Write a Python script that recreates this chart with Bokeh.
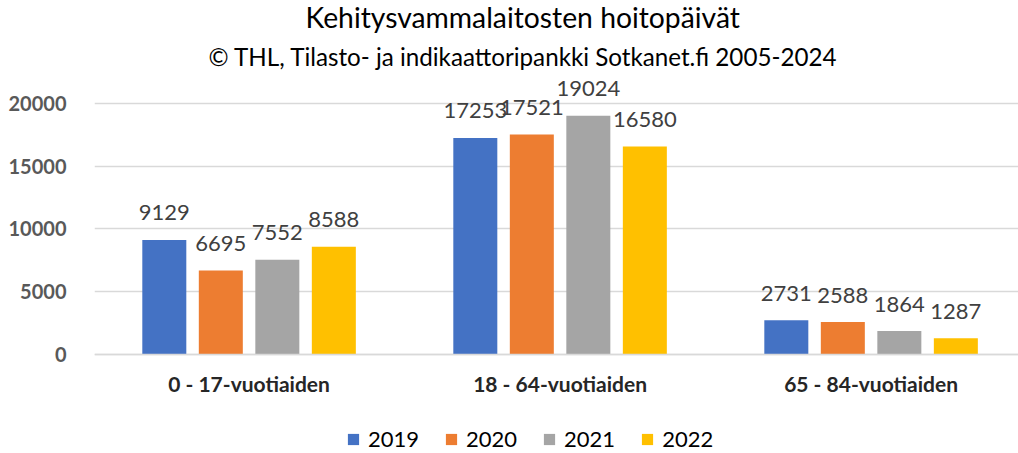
from bokeh.plotting import figure
from bokeh.models import (ColumnDataSource, Range1d, FixedTicker, Legend, LegendItem, Title)
from bokeh.core.properties import value
from bokeh.embed import file_html
from bokeh.resources import INLINE

categories = ["0 - 17-vuotiaiden", "18 - 64-vuotiaiden", "65 - 84-vuotiaiden"]
years = ["2019", "2020", "2021", "2022"]
v2019 = [9129, 17253, 2731]
v2020 = [6695, 17521, 2588]
v2021 = [7552, 19024, 1864]
v2022 = [8588, 16580, 1287]
series = [v2019, v2020, v2021, v2022]
colors = ["#4472C4", "#ED7D31", "#A5A5A5", "#FFC000"]

FONT = "Lato"
pitch = 0.1817
bar_w = 0.1415

p = figure(frame_width=924, frame_height=373, output_backend="svg", toolbar_location=None,
           x_range=Range1d(0.003, 2.974), y_range=Range1d(-7809, 21912),
           min_border_left=94, min_border_right=0, min_border_top=0, min_border_bottom=0)
p.outline_line_color = None
p.background_fill_color = "white"
p.border_fill_color = "white"

sub = Title(text="© THL, Tilasto- ja indikaattoripankki Sotkanet.fi 2005-2024", align="left",
            text_font=FONT, text_font_size="24.2px", text_font_style="normal", text_color="#000000",
            standoff=18, offset=114)
main = Title(text="Kehitysvammalaitosten hoitopäivät", align="left",
             text_font=FONT, text_font_size="28.3px", text_font_style="normal", text_color="#000000",
             standoff=-6, offset=211)
p.add_layout(sub, "above")
p.add_layout(main, "above")

items = []
for j, (yr, vals, col) in enumerate(zip(years, series, colors)):
    xs = [i + 0.5 + (j - 1.5) * pitch for i in range(len(categories))]
    src = ColumnDataSource(dict(x=xs, top=vals, lab=[str(v) for v in vals]))
    r = p.vbar(x="x", top="top", width=bar_w, source=src, fill_color=col, line_color=None)
    p.text(x="x", y="top", text="lab", source=src, text_align="center", text_baseline="alphabetic",
           y_offset=-27, text_font=value(FONT), text_font_size="22px", text_color="#404040")
    items.append(LegendItem(label=yr, renderers=[r]))

legend = Legend(items=items, orientation="horizontal", location=(252, 0),
                label_text_font=FONT, label_text_font_size="22px", label_text_color="#000000",
                glyph_width=14, glyph_height=14, label_standoff=8, spacing=25,
                border_line_color=None, background_fill_alpha=0, padding=0, margin=0)
p.add_layout(legend, "center")

p.xgrid.grid_line_color = None
p.ygrid.grid_line_color = "#d9d9d9"
p.ygrid.grid_line_width = 1.5
p.yaxis.ticker = FixedTicker(ticks=[0, 5000, 10000, 15000, 20000])
p.yaxis.axis_line_color = None
p.yaxis.major_tick_line_color = None
p.yaxis.minor_tick_line_color = None
p.yaxis.major_label_text_font = FONT
p.yaxis.major_label_text_font_size = "20px"
p.yaxis.major_label_text_font_style = "bold"
p.yaxis.major_label_text_color = "#595959"
p.yaxis.major_label_standoff = 22

p.xaxis.fixed_location = 0
p.xaxis.ticker = FixedTicker(ticks=[0.5, 1.5, 2.5])
p.xaxis.major_label_overrides = {0.5: categories[0], 1.5: categories[1], 2.5: categories[2]}
p.xaxis.axis_line_color = "#d9d9d9"
p.xaxis.axis_line_width = 1.5
p.xaxis.major_tick_line_color = None
p.xaxis.minor_tick_line_color = None
p.xaxis.major_label_text_font = FONT
p.xaxis.major_label_text_font_size = "21px"
p.xaxis.major_label_text_font_style = "bold"
p.xaxis.major_label_text_color = "#262626"
p.xaxis.major_label_standoff = 11

open("out.html", "w").write(file_html(p, INLINE))
